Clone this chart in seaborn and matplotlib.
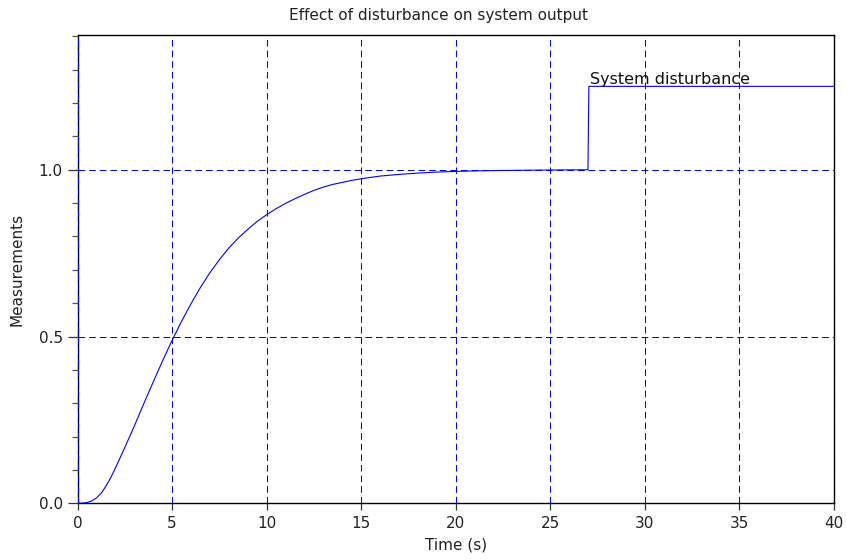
import matplotlib
matplotlib.use("Agg")
import matplotlib.pyplot as plt
from matplotlib.ticker import MultipleLocator, FixedLocator
import seaborn as sns
import pandas as pd

# Step response of the system output, with a load disturbance applied at t = 27 s
time_s = [0.0, 0.25, 0.5, 0.75, 1.0, 1.25, 1.5, 1.75, 2.0, 2.25, 2.5, 3.0, 3.5,
          4.0, 4.5, 5.0, 5.5, 6.0, 6.5, 7.0, 7.5, 8.0, 8.5, 9.0, 9.5, 10.0,
          10.5, 11.0, 11.5, 12.0, 12.5, 13.0, 13.5, 14.0, 14.5, 15.0, 16.0,
          17.0, 18.0, 19.0, 20.0, 21.0, 22.0, 24.0, 27.0, 27.05, 40.0]
output = [0.0, 0.0004, 0.0025, 0.007, 0.016, 0.030, 0.051, 0.076, 0.105, 0.136,
          0.167, 0.231, 0.298, 0.363, 0.427, 0.488, 0.545, 0.598, 0.647, 0.691,
          0.730, 0.765, 0.795, 0.821, 0.845, 0.865, 0.883, 0.899, 0.913, 0.926,
          0.938, 0.948, 0.956, 0.962, 0.968, 0.973, 0.981, 0.986, 0.990, 0.993,
          0.995, 0.9965, 0.9975, 0.9988, 1.0, 1.25, 1.25]

x_ticks = [0, 5, 10, 15, 20, 25, 30, 35, 40]
y_ticks = [0.0, 0.5, 1.0]
y_tick_labels = ["0.0", "0.5", "1.0"]

disturbance_label = "System disturbance"
disturbance_time = 27.1
disturbance_level = 1.258

df = pd.DataFrame({"t": time_s, "y": output})

sns.set_style("ticks")
plt.rcParams["font.family"] = ["DejaVu Sans"]

fig = plt.figure(figsize=(8.47, 5.6), dpi=100)
ax = fig.add_axes([77.5 / 847, 1 - 503.3 / 560, (833.7 - 77.5) / 847, (503.3 - 35) / 560])

sns.lineplot(data=df, x="t", y="y", ax=ax, color="#0000ff", linewidth=0.8,
             sort=False, estimator=None, zorder=3)

ax.set_xlim(0, 40)
ax.set_ylim(0, 1.404)
ax.xaxis.set_major_locator(FixedLocator(x_ticks))
ax.yaxis.set_major_locator(FixedLocator(y_ticks))
ax.set_yticklabels(y_tick_labels)
ax.yaxis.set_minor_locator(MultipleLocator(0.1))

for side in ["left", "right", "top", "bottom"]:
    ax.spines[side].set_visible(True)
    ax.spines[side].set_color("black")
    ax.spines[side].set_linewidth(1.0)
    ax.spines[side].set_zorder(1)

ax.set_axisbelow("line")
ax.grid(True, which="major", color="#0000ff", linestyle=(0, (6.4, 3.8)), linewidth=0.75)

ax.tick_params(axis="y", which="major", length=7.5, width=0.9, color="#333333",
               labelsize=11, labelcolor="#222222", pad=3)
ax.tick_params(axis="y", which="minor", length=4, width=0.9, color="#555555")
ax.tick_params(axis="x", which="major", length=5, width=0.9, color="#333333",
               labelsize=11, labelcolor="#222222", pad=4.5)

ax.set_xlabel("Time (s)", fontsize=11, color="#222222", labelpad=4)
ax.set_ylabel("Measurements", fontsize=11, color="#222222", labelpad=10)
ax.set_title("Effect of disturbance on system output", fontsize=11,
             color="#222222", pad=11)
ax.title.set_x((438 - 77.5) / (833.7 - 77.5))

ax.text(disturbance_time, disturbance_level, disturbance_label, fontsize=11.5,
        color="#111111", ha="left", va="baseline")

fig.savefig("out.png", dpi=100)
